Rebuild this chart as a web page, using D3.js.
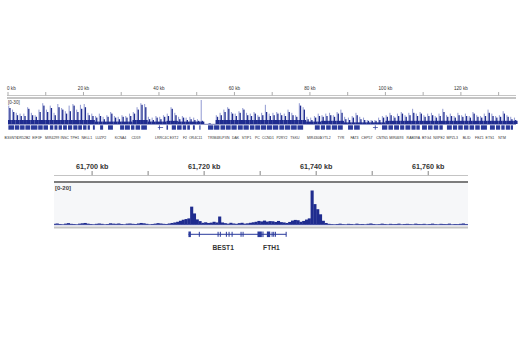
<!DOCTYPE html>
<html><head><meta charset="utf-8">
<script src="https://cdn.jsdelivr.net/npm/d3@7"></script>
<style>body{margin:0;background:#fff}svg{display:block}text{font-family:"Liberation Sans",Arial,sans-serif}</style>
</head><body><svg id="c" width="520" height="350"></svg>
<script>
// ---------- DATA ----------
// Top panel: whole chromosome, 1 Mb bins (0..134 Mb)
const topTicks = [0,10,20,30,40,50,60,70,80,90,100,110,120,130];
const topTickLabels = ["0 kb","","20 kb","","40 kb","","60 kb","","80 kb","","100 kb","","120 kb",""];
const topRange = "[0-30]";
const topBase = [5,5,5,5,5,5,5,5,5,5,5,5,5,5,5,5,5,5,5,5,5,5,5,
  3,3,3,3,3,3,3,3,3,3, 5,5,5,5, 3,3,3,3,3, 4,4,4, 3,3,3,3,3,3,3, 0,0,0,
  5,5,5,5,5,5,5,5,5,5,5,5,5,5,5,5,5,5,5,5,5,5,5,5, 3,3,3,3, 4,4,4,4,4,4,
  2,2,2,2,2,2,2,2,2,2,2, 4,4,4,4,4,4,4,4,4,4,4,4,4,4,4,4,4,4,4,4,4,4,4,4,4,
  4,4,4,4,4,4,4,4,4,4];
const topPeak = [20,15,11,10, 10,19,11,9,15,23, 15,20,11,21, 18,13,16, 23,15,19, 21,11,10,
  8,10,6,9,13,8,6,9,8,10, 13,18,24,21, 6,5,8,6,9, 10,19,11, 6,8,5,6,5,4,4, 0,1,0,
  9,11,15,19,13,10,14,18,11,10,13,9, 11,15,10,11, 13,11,10,15,11,9, 23,18, 6,5,8,10,
  9,10,11,9,13,14, 6,5,8,11,6,5,4,4, 4,5,8, 9,11,8,10,13,9,11,14, 10,13,9,10,11,8, 10,15,
  9,10,8,11,9,10,8,13,9, 8,10,14,10,8,9,13,9,6,5];
const topMax = [23,18,14,13, 13,21,14,11,18,26, 18,23,14,25, 20,16,23, 25,18,24, 25,14,13,
  10,13,9,11,15,10,9,11,10,13, 15,21,26,25, 9,8,10,9,11, 13,21,14, 9,10,8,9,8,6,30, 0,1,0,
  11,14,18,21,15,13,16,20,14,13,15,11, 14,24,13,14, 15,14,13,18,14,11, 26,21, 9,8,10,13,
  11,13,14,11,15,18, 9,8,10,14,9,8,5,5, 5,8,10, 11,14,10,13,15,11,14,19, 13,15,11,13,14,10, 13,19,
  11,13,10,14,11,13,10,15,11, 10,13,18,13,10,11,16,11,9,8];
// gene blocks (Mb)
const topGeneStart = [0.1,1.8,3.2,4.6,6.1,8.0,9.4, 11.1,12.3,13.4,14.6, 15.9,17.3,18.6,19.9,21.1,
  22.5,24.4,26.5, 29.7,31.0,32.6,33.8,35.3, 40.0, 42.0, 43.4,44.8,46.3,47.5, 49.0,50.7,
  53.0,54.6,56.3,57.7,59.2,60.9,62.4,64.1,65.5, 67.0,68.6,70.2,71.9,73.4,75.0,76.7,
  81.3,82.9,84.3,85.8,87.4, 90.1,91.7, 97.2,
  99.1,100.8,102.3,103.9,105.3,106.9,108.2, 109.7,111.3,112.8,114.3,
  116.3,117.9,119.3,120.8,122.3,123.8,125.3, 127.7,129.3,130.7,131.9,133.2];
const topGeneEnd = [1.6,3.0,4.4,5.9,7.8,9.2,10.6, 12.0,13.1,14.3,15.6, 17.0,18.4,19.6,20.8,21.7,
  23.0,25.2,27.8, 30.8,32.3,33.5,35.0,36.8, 40.2, 42.4, 44.5,46.0,47.2,48.2, 49.5,51.0,
  54.4,56.0,57.5,59.0,60.6,62.2,63.8,65.3,66.8, 68.4,70.0,71.6,73.2,74.8,76.5,78.2,
  82.6,84.0,85.5,87.2,88.7, 91.4,93.2, 97.4,
  100.5,102.0,103.6,105.0,106.6,108.0,109.1, 111.0,112.5,114.0,115.2,
  117.6,119.0,120.5,122.0,123.5,125.0,126.9, 129.0,130.4,131.6,133.0,133.8];
const topIntronStart = [39.7, 96.7];
const topIntronEnd = [41.1, 98.0];
const topGeneNames = ["B3GNT6","OR52B2","EIF3F","MIR4299","INSC","TPH1","NELL1","LUZP2","KCNA4","CD59",
  "LRRC4C","EXT2","F2","OR4C11","TRIM48","LPXN","DAK","STIP1","PC","CCND1","P2RY2","TSKU",
  "MIR4300","SYTL2","TYR","FAT3","CEP57","CNTN5","MIR4693","RAB39A","BTG4","NXPE2","MPZL3",
  "BLID","FEZ1","ETS1","NTM"];
const topGeneLabelPos = [0.9,4.1,7.7,11.7,15.0,17.7,20.9,24.6,29.8,33.9,
  40.8,44.0,46.9,49.7,54.6,57.5,60.3,63.2,66.1,68.9,72.6,76.0,
  81.1,84.1,88.2,91.8,95.1,99.1,102.9,107.4,110.9,114.2,117.7,
  121.5,124.9,127.7,130.9];

// Bottom panel: zoomed locus, 0.5 kb bins starting at 61,693 kb
const lowStartKb = 61693;
const lowBinKb = 0.5;
const lowTicks = [61690,61700,61710,61720,61730,61740,61750,61760];
const lowTickLabels = ["","61,700 kb","","61,720 kb","","61,740 kb","","61,760 kb"];
const lowRange = "[0-20]";
const lowValues = [0.4,0.6,0.3,0,0.5,0.8,0.4,0.3,0,0.5,0.7,0.9,0.5,0.3,0,0.4,0.6,0.4,0,0.3,
  0.7,0.5,0.4,0.6,0.3,0,0.5,0.6,0.4,0.3,0.6,0.9,0.7,0.4,0,0.3,0.5,0.8,0.6,0.4,0.3,0.6,0.9,
  1.2,1.6,2.2,2.8,3.2, 3.6,10.5,6.5,3.0,2.0, 1.0,1.3,0.9,1.1,1.6,1.2, 4.7,
  1.2,0.8,0.5,1.0,0.6,0.4,0.8,1.0,0.5,0.7,1.0,1.3,
  1.6,2.1,1.8,2.3,1.7,2.0,1.9,1.5,2.1,1.4,1.2,0.9,
  1.5,2.3,2.7,2.5,1.6,2.1, 2.9,3.6, 20,12,9,6,2.2,0.9,
  0.4,0.2,0,0.3,0.5,0.2,0,0.4,0.3,0,0.5,0.2,0.3,0,0.4,0.6,0.3,0,0.2,0.5,
  0.3,0,0.4,0.2,0.3,0.5,0,0.3,0.4,0.2,0,0.5,0.3,0.2,0.4,0,0.3,0.5,0.2,0,
  0.4,0.3,0.2,0.5,0,0.3,0.2,0.4,0.6,0.3];
const geneLineKb = [61717.2, 61734.64];
const exonStart = [61717.20,61719.05,61722.40,61722.80,61723.88,61724.36,61724.90,61726.50,61726.86,61729.52,61730.40,61731.20,61732.04,61732.33,61732.63,61734.55];
const exonEnd   = [61717.63,61719.20,61722.55,61722.95,61724.02,61724.50,61725.05,61726.65,61727.00,61730.30,61730.60,61731.79,61732.19,61732.48,61732.78,61734.70];
const exonTall  = [1,0,0,0,0,0,0,0,0,1,1,1,0,0,0,0];
const lowGeneNames = ["BEST1","FTH1"];
const lowGeneLabelKb = [61723.4, 61732.0];

// ---------- DRAW ----------
const svg = d3.select("#c");
svg.append("rect").attr("width",520).attr("height",350).attr("fill","#fff");
const DARK = "#1f2c8f", LIGHT = "#9ba3d6", GENE = "#2a3a9c";

// ===== Top panel =====
const xT = d3.scaleLinear().domain([0,134.6]).range([8,516]);
const yT = d3.scaleLinear().domain([0,30]).range([124,100]);
const gT = svg.append("g");
gT.selectAll("line.tt").data(topTicks).join("line")
  .attr("x1",d=>xT(d)).attr("x2",d=>xT(d)).attr("y1",92).attr("y2",95.5)
  .attr("stroke","#888").attr("stroke-width",0.7);
gT.selectAll("text.tl").data(topTicks).join("text")
  .attr("x",(d,i)=> i===0 ? 7 : xT(d)).attr("y",90)
  .attr("text-anchor",(d,i)=> i===0 ? "start":"middle")
  .attr("font-size",4.6).attr("fill","#333")
  .text((d,i)=>topTickLabels[i]);
gT.append("line").attr("x1",7).attr("x2",516).attr("y1",95.5).attr("y2",95.5).attr("stroke","#aaa").attr("stroke-width",0.7);
gT.append("line").attr("x1",7).attr("x2",516).attr("y1",98).attr("y2",98).attr("stroke","#8a8a8a").attr("stroke-width",1.2);
gT.append("text").attr("x",8).attr("y",103.5).attr("font-size",4.6).attr("fill","#333").text(topRange);
const bw = xT(1)-xT(0);
const binsT = d3.range(topPeak.length);
gT.selectAll("rect.mx").data(binsT).join("rect")
  .attr("x",i=>xT(i)+0.2).attr("width",1.1)
  .attr("y",i=>yT(topMax[i])).attr("height",i=>yT(0)-yT(topMax[i]))
  .attr("fill",LIGHT);
gT.selectAll("rect.bs").data(binsT).join("rect")
  .attr("x",i=>xT(i)).attr("width",bw+0.05)
  .attr("y",i=>yT(topBase[i])).attr("height",i=>yT(0)-yT(topBase[i]))
  .attr("fill",DARK);
gT.selectAll("rect.pk").data(binsT).join("rect")
  .attr("x",i=>xT(i+0.5)-0.6).attr("width",1.3)
  .attr("y",i=>yT(topPeak[i])).attr("height",i=>yT(0)-yT(topPeak[i]))
  .attr("fill",DARK);
gT.append("line").attr("x1",8).attr("x2",516).attr("y1",124.3).attr("y2",124.3).attr("stroke",DARK).attr("stroke-width",0.6);
gT.selectAll("line.in").data(topIntronStart).join("line")
  .attr("x1",(d)=>xT(d)).attr("x2",(d,i)=>xT(topIntronEnd[i])).attr("y1",127.5).attr("y2",127.5)
  .attr("stroke",GENE).attr("stroke-width",0.7);
gT.selectAll("rect.gb").data(topGeneStart).join("rect")
  .attr("x",d=>xT(d)).attr("width",(d,i)=>Math.max(0.8,xT(topGeneEnd[i])-xT(d)))
  .attr("y",125.3).attr("height",4.4).attr("fill",GENE);
gT.selectAll("text.gn").data(topGeneNames).join("text")
  .attr("x",(d,i)=>xT(topGeneLabelPos[i])).attr("y",139)
  .attr("text-anchor","middle").attr("font-size",3.5)
  .style("font-family","'Liberation Sans Narrow','Liberation Sans',Arial,sans-serif")
  .attr("fill","#333").text(d=>d);

// ===== Bottom panel =====
const xB = d3.scaleLinear().domain([61693.2,61767.1]).range([54,468]);
const yB = d3.scaleLinear().domain([0,20]).range([224.5,190.5]);
const gB = svg.append("g");
gB.selectAll("line.bt").data(lowTicks.filter(d=>xB(d)>=54)).join("line")
  .attr("x1",d=>xB(d)).attr("x2",d=>xB(d)).attr("y1",171).attr("y2",175.5)
  .attr("stroke","#666").attr("stroke-width",0.8);
gB.selectAll("text.bl").data(lowTicks).join("text")
  .attr("x",d=>xB(d)).attr("y",168.5).attr("text-anchor","middle")
  .attr("font-size",7.2).attr("font-weight","bold").attr("fill","#333")
  .text((d,i)=>lowTickLabels[i]);
gB.append("line").attr("x1",54).attr("x2",468).attr("y1",175.5).attr("y2",175.5).attr("stroke","#b5b5b5").attr("stroke-width",0.8);
gB.append("rect").attr("x",54).attr("y",183).attr("width",414).attr("height",41.5).attr("fill","#f6f7f9");
gB.append("line").attr("x1",54).attr("x2",468).attr("y1",182).attr("y2",182).attr("stroke","#7d7d7d").attr("stroke-width",2);
gB.append("text").attr("x",55).attr("y",190).attr("font-size",6).attr("font-weight","bold").attr("fill","#444").text(lowRange);
gB.append("g").selectAll("rect").data(lowValues).join("rect")
  .attr("x",(d,i)=>Math.max(54,xB(lowStartKb+i*lowBinKb)))
  .attr("width",(d,i)=>Math.max(0, Math.min(468,xB(lowStartKb+(i+1)*lowBinKb)+0.3) - Math.max(54,xB(lowStartKb+i*lowBinKb))))
  .attr("y",d=>yB(d)).attr("height",d=>yB(0)-yB(d)).attr("fill",DARK);
gB.append("line").attr("x1",54).attr("x2",468).attr("y1",224.7).attr("y2",224.7).attr("stroke",DARK).attr("stroke-width",0.8);
gB.append("line").attr("x1",54).attr("x2",468).attr("y1",227.6).attr("y2",227.6).attr("stroke","#c4c4c4").attr("stroke-width",2);
gB.append("line").attr("x1",xB(geneLineKb[0])).attr("x2",xB(geneLineKb[1])).attr("y1",234.3).attr("y2",234.3)
  .attr("stroke",GENE).attr("stroke-width",1);
gB.selectAll("rect.ex").data(exonStart).join("rect")
  .attr("x",d=>xB(d)).attr("width",(d,i)=>Math.max(1,xB(exonEnd[i])-xB(d)))
  .attr("y",(d,i)=>exonTall[i]?231.5:231.8).attr("height",(d,i)=>exonTall[i]?5.6:5)
  .attr("fill",GENE);
gB.selectAll("text.lg").data(lowGeneNames).join("text")
  .attr("x",(d,i)=>xB(lowGeneLabelKb[i])).attr("y",250)
  .attr("text-anchor","middle").attr("font-size",6.6).attr("font-weight","bold").attr("fill","#333").text(d=>d);
</script></body></html>
